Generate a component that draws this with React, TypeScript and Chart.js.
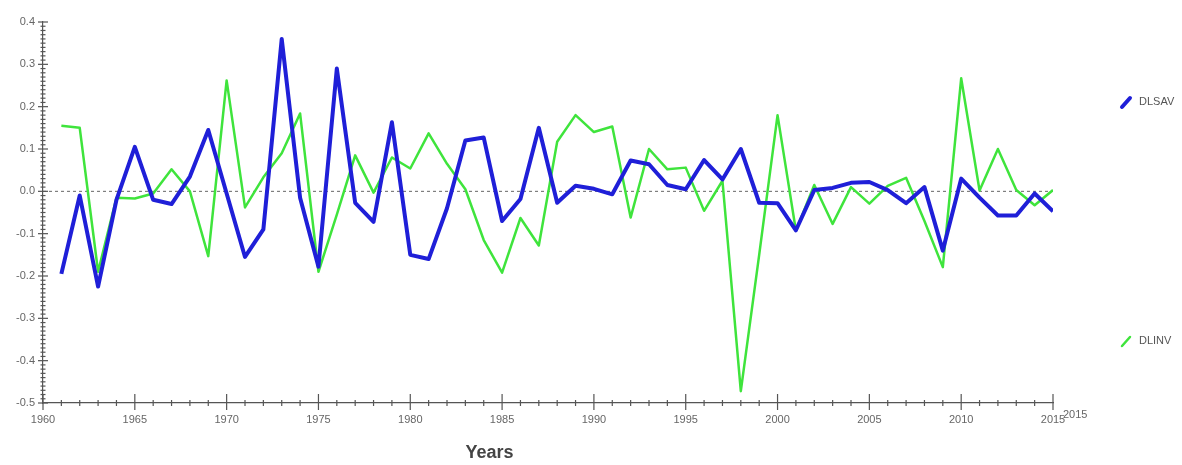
import React, { useEffect, useRef } from "react";
import { Chart, registerables } from "chart.js";

Chart.register(...registerables);

// Annual observations, 1961-2015
const years = [
  1961, 1962, 1963, 1964, 1965, 1966, 1967, 1968, 1969, 1970,
  1971, 1972, 1973, 1974, 1975, 1976, 1977, 1978, 1979, 1980,
  1981, 1982, 1983, 1984, 1985, 1986, 1987, 1988, 1989, 1990,
  1991, 1992, 1993, 1994, 1995, 1996, 1997, 1998, 1999, 2000,
  2001, 2002, 2003, 2004, 2005, 2006, 2007, 2008, 2009, 2010,
  2011, 2012, 2013, 2014, 2015,
];

const dlsav = [
  -0.195, -0.01, -0.225, -0.02, 0.105, -0.02, -0.03, 0.035, 0.145, -0.005,
  -0.155, -0.09, 0.36, -0.015, -0.178, 0.29, -0.027, -0.072, 0.163, -0.15,
  -0.16, -0.04, 0.12, 0.127, -0.07, -0.018, 0.15, -0.027, 0.013, 0.006,
  -0.007, 0.073, 0.064, 0.015, 0.005, 0.074, 0.028, 0.1, -0.027, -0.028,
  -0.092, 0.003, 0.008, 0.02, 0.022, 0.003, -0.028, 0.01, -0.14, 0.03,
  -0.015, -0.057, -0.057, -0.005, -0.047,
];

const dlinv = [
  0.155, 0.15, -0.19, -0.015, -0.017, -0.005, 0.052, 0.0, -0.153, 0.262,
  -0.038, 0.033, 0.09, 0.184, -0.19, -0.055, 0.085, -0.003, 0.08, 0.054,
  0.137, 0.065, 0.005, -0.115, -0.192, -0.063, -0.128, 0.117, 0.18, 0.14,
  0.153, -0.062, 0.1, 0.052, 0.056, -0.046, 0.025, -0.472, -0.15, 0.18,
  -0.093, 0.015, -0.077, 0.01, -0.029, 0.013, 0.032, -0.07, -0.179, 0.267,
  0.002, 0.1, 0.003, -0.033, 0.003,
];

const seriesNames = ["DLSAV", "DLINV"];
const seriesColors = ["#1f1fd8", "#3fe43c"];

const xMin = 1960;
const xMax = 2015;
const yMin = -0.5;
const yMax = 0.4;
const axisTitle = "Years";
const axisEndLabel = "2015";

const FONT = "'Liberation Sans', Arial, sans-serif";
const AXIS_COLOR = "#555";
const TEXT_COLOR = "#666";

const decorPlugin = {
  id: "decor",
  beforeDatasetsDraw(chart: any) {
    const { ctx, chartArea, scales } = chart;
    const y0 = scales.y.getPixelForValue(0);
    ctx.save();
    ctx.setLineDash([3, 3]);
    ctx.strokeStyle = "#666";
    ctx.lineWidth = 1;
    ctx.beginPath();
    ctx.moveTo(chartArea.left, y0);
    ctx.lineTo(chartArea.right, y0);
    ctx.stroke();
    ctx.restore();
  },
  afterDraw(chart: any) {
    const { ctx, chartArea, scales } = chart;
    const xs = scales.x;
    const ys = scales.y;
    ctx.save();
    ctx.strokeStyle = AXIS_COLOR;
    ctx.lineWidth = 1.2;

    // y axis: crossing ticks, major every 0.1, minor every 0.01
    const ax = chartArea.left;
    for (let k = Math.round(yMin * 100); k <= Math.round(yMax * 100); k++) {
      const py = ys.getPixelForValue(k / 100);
      const half = k % 10 === 0 ? 5 : 2.5;
      ctx.beginPath();
      ctx.moveTo(ax - half, py);
      ctx.lineTo(ax + half, py);
      ctx.stroke();
    }

    // x axis: major every 5 years, minor every year
    const ay = chartArea.bottom;
    for (let yr = xMin; yr <= xMax; yr++) {
      const px = xs.getPixelForValue(yr);
      ctx.beginPath();
      if (yr % 5 === 0) {
        ctx.moveTo(px, ay - 9);
        ctx.lineTo(px, ay + 7);
      } else {
        ctx.moveTo(px, ay - 3);
        ctx.lineTo(px, ay + 3);
      }
      ctx.stroke();
    }

    // trailing end label beside the last tick
    ctx.fillStyle = TEXT_COLOR;
    ctx.font = `11px ${FONT}`;
    ctx.textAlign = "left";
    ctx.textBaseline = "middle";
    ctx.fillText(axisEndLabel, chartArea.right + 10, ay + 12);

    // axis title
    ctx.fillStyle = "#444";
    ctx.font = `bold 18px ${FONT}`;
    ctx.textAlign = "center";
    ctx.fillText(axisTitle, chartArea.left + (chartArea.right - chartArea.left) * 0.442, ay + 50);

    // legend entries on the right
    const legendY = [102, 341];
    chart.data.datasets.forEach((ds: any, i: number) => {
      const lx = chartArea.right + 69;
      const ly = legendY[i];
      ctx.strokeStyle = ds.borderColor;
      ctx.lineWidth = i === 0 ? 4 : 2.5;
      ctx.lineCap = "round";
      ctx.beginPath();
      ctx.moveTo(lx, ly + 5);
      ctx.lineTo(lx + 8, ly - 4);
      ctx.stroke();
      ctx.fillStyle = "#555";
      ctx.font = `11px ${FONT}`;
      ctx.textAlign = "left";
      ctx.textBaseline = "middle";
      ctx.fillText(ds.label, lx + 17, ly);
    });
    ctx.restore();
  },
};

export default function App() {
  const canvasRef = useRef<HTMLCanvasElement | null>(null);

  useEffect(() => {
    if (!canvasRef.current) return;
    const chart = new Chart(canvasRef.current, {
      type: "line",
      data: {
        datasets: [
          {
            label: seriesNames[0],
            data: years.map((yr, i) => ({ x: yr, y: dlsav[i] })),
            borderColor: seriesColors[0],
            backgroundColor: seriesColors[0],
            borderWidth: 4,
            pointRadius: 0,
            tension: 0,
            borderJoinStyle: "round",
          },
          {
            label: seriesNames[1],
            data: years.map((yr, i) => ({ x: yr, y: dlinv[i] })),
            borderColor: seriesColors[1],
            backgroundColor: seriesColors[1],
            borderWidth: 2.5,
            pointRadius: 0,
            tension: 0,
            borderJoinStyle: "round",
          },
        ],
      },
      options: {
        responsive: false,
        animation: false,
        layout: { padding: { top: 22, right: 129, left: 0, bottom: 0 } },
        plugins: {
          legend: { display: false },
          tooltip: { enabled: false },
        },
        scales: {
          x: {
            type: "linear",
            min: xMin,
            max: xMax,
            afterFit: (scale: any) => {
              scale.height = 62;
            },
            grid: { display: false, drawTicks: false },
            border: { display: true, color: AXIS_COLOR, width: 1.2 },
            ticks: {
              stepSize: 5,
              padding: 10,
              color: TEXT_COLOR,
              font: { family: FONT, size: 11 },
              maxRotation: 0,
              callback: (v: any) => String(v),
            },
          },
          y: {
            type: "linear",
            min: yMin,
            max: yMax,
            afterFit: (scale: any) => {
              scale.width = 43;
            },
            grid: { display: false, drawTicks: false },
            border: { display: true, color: AXIS_COLOR, width: 1.2 },
            ticks: {
              stepSize: 0.1,
              padding: 8,
              color: TEXT_COLOR,
              font: { family: FONT, size: 11 },
              callback: (v: any) => {
                const n = Number(v);
                return Math.abs(n) < 1e-9 ? "0.0" : n.toFixed(1);
              },
            },
          },
        },
      },
      plugins: [decorPlugin],
    });
    return () => chart.destroy();
  }, []);

  return (
    <div style={{ position: "fixed", left: 0, top: 0, width: 1182, height: 465, background: "#fff" }}>
      <canvas ref={canvasRef} width={1182} height={465} style={{ display: "block" }} />
    </div>
  );
}
